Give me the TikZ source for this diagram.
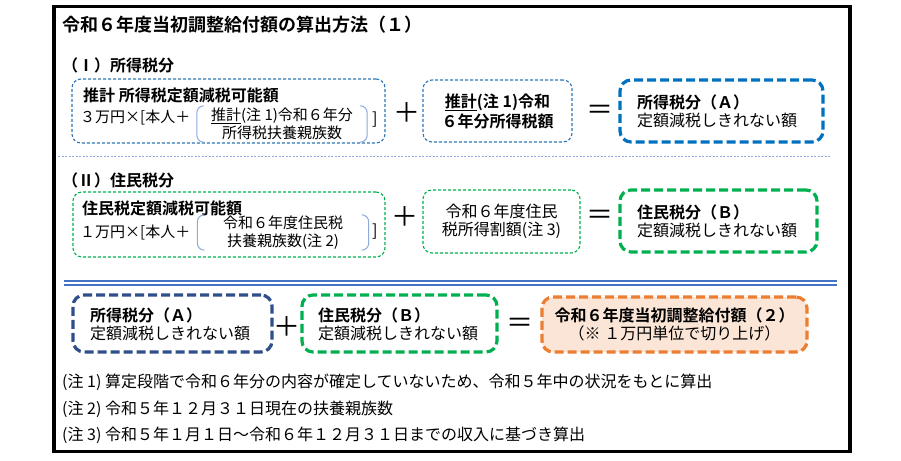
\documentclass[tikz,border=0pt]{standalone}
\usepackage{fontspec}
\setmainfont{Noto Sans CJK JP}[BoldFont={Noto Sans CJK JP Bold}]
\usetikzlibrary{positioning,calc}
\definecolor{lblue}{HTML}{2E75B6}
\definecolor{dblue}{HTML}{0070C0}
\definecolor{navy}{HTML}{2F4F8A}
\definecolor{kgreen}{HTML}{00B050}
\definecolor{korange}{HTML}{ED7D31}
\definecolor{lorange}{HTML}{FBE5D6}
\definecolor{rulec}{HTML}{4472C4}
\definecolor{sepc}{HTML}{8FAADC}
\definecolor{brkc}{HTML}{8EA9DB}

\begin{document}
\begin{tikzpicture}[x=1pt,y=-1pt,
    thinbox/.style={draw, line width=1.1pt, rounded corners=9pt, dash pattern=on 3pt off 2pt, inner sep=0pt},
    thickbox/.style={draw, line width=3.2pt, rounded corners=11pt, dash pattern=on 9pt off 4pt, inner sep=0pt},
    txt/.style={font=\fontsize{16}{18}\selectfont, inner sep=0pt, anchor=west, align=left},
    btxt/.style={txt, font=\fontsize{16}{18}\selectfont\bfseries},
    ctxt/.style={font=\fontsize{16}{18}\selectfont, inner sep=0pt, align=center},
    stxt/.style={ctxt, font=\fontsize{15}{18}\selectfont},
    brkline/.style={draw=brkc, line width=1pt, rounded corners=7pt},
    sign/.style={font=\fontsize{27}{27}\selectfont, inner sep=0pt}]
    \useasboundingbox (0,0) rectangle (901,460);
    \draw[line width=3.5pt] (54,6.5) rectangle (850,451.5);

    \node[txt, font=\fontsize{18}{20}\selectfont\bfseries] (title) at (62,25) {令和６年度当初調整給付額の算出方法（１）};

    % (I) income tax
    \node[btxt] (hI) at (62,65) {（Ⅰ）所得税分};
    \node[thinbox, draw=lblue, minimum width=313, minimum height=64] (qI) at (228.5,111) {};
    \node[btxt] (qIa) at (83,95) {推計 所得税定額減税可能額};
    \node[txt, font=\fontsize{15}{18}\selectfont] (qIb) at (80,117) {３万円×[本人＋};
    \node[minimum width=170, minimum height=36, inner sep=0pt] (brkI) at (282,124) {};
    \node[stxt] (brkIt) at (brkI) {\underline{推計}(注 1)令和６年分\\所得税扶養親族数};
    \draw[brkline] ([xshift=7pt]brkI.north west) -- (brkI.north west) -- (brkI.south west) -- ([xshift=7pt]brkI.south west);
    \draw[brkline] ([xshift=-7pt]brkI.north east) -- (brkI.north east) -- (brkI.south east) -- ([xshift=-7pt]brkI.south east);
    \node[txt] (clI) at (372,120) {]};
    \node[sign] (plI) at (407,113) {＋};
    \node[thinbox, draw=lblue, minimum width=149, minimum height=62] (tI) at (497.5,111) {};
    \node[ctxt, font=\fontsize{16}{20}\selectfont\bfseries] (tIt) at (tI) {\underline{推計}(注 1)令和\\６年分所得税額};
    \node[sign] (eqI) at (600,112) {＝};
    \node[thickbox, draw=dblue, minimum width=203, minimum height=62] (rA) at (721.5,111) {};
    \node[txt] (rAt) at (637,111) {{\bfseries 所得税分（Ａ）}\\定額減税しきれない額};

    \draw[sepc, line width=1pt, dash pattern=on 2pt off 1.5pt] (58,156) -- (830,156);

    % (II) resident tax
    \node[btxt] (hII) at (62,180) {（Ⅱ）住民税分};
    \node[thinbox, draw=kgreen, minimum width=312, minimum height=65] (qII) at (229,224.5) {};
    \node[btxt] (qIIa) at (82,208) {住民税定額減税可能額};
    \node[txt, font=\fontsize{15}{18}\selectfont] (qIIb) at (80,232) {１万円×[本人＋};
    \node[minimum width=171, minimum height=35, inner sep=0pt] (brkII) at (283,232.5) {};
    \node[stxt] (brkIIt) at (brkII) {令和６年度住民税\\扶養親族数(注 2)};
    \draw[brkline] ([xshift=7pt]brkII.north west) -- (brkII.north west) -- (brkII.south west) -- ([xshift=7pt]brkII.south west);
    \draw[brkline] ([xshift=-7pt]brkII.north east) -- (brkII.north east) -- (brkII.south east) -- ([xshift=-7pt]brkII.south east);
    \node[txt] (clII) at (372,232) {]};
    \node[sign] (plII) at (405,217) {＋};
    \node[thinbox, draw=kgreen, minimum width=157, minimum height=63] (tII) at (501.5,221.5) {};
    \node[ctxt] (tIIt) at (tII) {令和６年度住民\\税所得割額(注 3)};
    \node[sign] (eqII) at (600,217) {＝};
    \node[thickbox, draw=kgreen, minimum width=197, minimum height=62] (rB) at (718.5,221) {};
    \node[txt] (rBt) at (637,221) {{\bfseries 住民税分（Ｂ）}\\定額減税しきれない額};

    \draw[rulec, line width=1.6pt, double=white, double distance=2pt] (64,283) -- (837,283);

    % total
    \node[thickbox, draw=navy, minimum width=199, minimum height=57] (sA) at (172.5,323.5) {};
    \node[txt] (sAt) at (90,324) {{\bfseries 所得税分（Ａ）}\\定額減税しきれない額};
    \node[sign] (plS) at (287,327) {＋};
    \node[thickbox, draw=kgreen, minimum width=195, minimum height=57] (sB) at (399.5,323.5) {};
    \node[txt] (sBt) at (318,324) {{\bfseries 住民税分（Ｂ）}\\定額減税しきれない額};
    \node[sign] (eqS) at (520,325) {＝};
    \node[thickbox, draw=korange, fill=lorange, minimum width=265, minimum height=55] (sum) at (674.5,324.5) {};
    \node[ctxt] (sumt) at (sum) {{\bfseries 令和６年度当初調整給付額（２）}\\（※ １万円単位で切り上げ）};

    % notes
    \node[txt] (n1) at (62,382) {(注 1) 算定段階で令和６年分の内容が確定していないため、令和５年中の状況をもとに算出};
    \node[txt] (n2) at (62,409) {(注 2) 令和５年１２月３１日現在の扶養親族数};
    \node[txt] (n3) at (62,435) {(注 3) 令和５年１月１日～令和６年１２月３１日までの収入に基づき算出};
\end{tikzpicture}
\end{document}
